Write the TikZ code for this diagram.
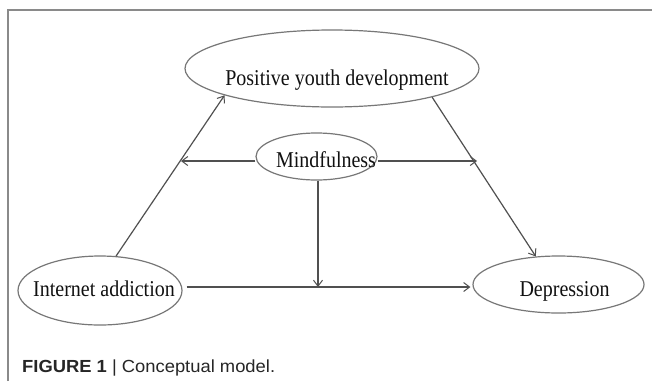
\documentclass[tikz,border=0pt]{standalone}
\usepackage{fontspec}
\setmainfont{Liberation Serif}
\newfontfamily\capfont{Liberation Sans}
\usetikzlibrary{shapes.geometric,arrows.meta,calc}
\definecolor{framec}{HTML}{8A8A8A}
\definecolor{ellc}{HTML}{777777}
\definecolor{linec}{HTML}{505050}
\definecolor{txtc}{HTML}{111111}
\newcommand{\tallt}[1]{\scalebox{1}[1.13]{#1}}
\tikzset{
  ell/.style={draw=ellc, line width=1.2pt, ellipse, inner sep=0pt},
  lbl/.style={anchor=base, inner sep=0pt, text=txtc, font=\fontsize{20}{24}\selectfont},
  arr/.style={draw=linec, line width=1.2pt, -{Straight Barb[length=6pt,width=9pt,line width=1pt]}},
  ln/.style={draw=linec, line width=1.2pt}
}
\begin{document}
\begin{tikzpicture}[x=1pt,y=-1pt]
\useasboundingbox (0,0) rectangle (652,381);
\fill[white] (0,0) rectangle (652,381);
% frame
\draw[framec, line width=1.6pt] (8,381) -- (8,10) -- (652,10);
% ellipses
\node[ell, minimum width=294pt, minimum height=77pt] (pyd) at (332,68.5) {};
\node[ell, minimum width=121pt, minimum height=47pt] (mind) at (316.5,156.5) {};
\node[ell, minimum width=164pt, minimum height=69pt] (ia) at (100,290.5) {};
\node[ell, minimum width=171pt, minimum height=57pt] (dep) at (558.5,284.5) {};
% texts
\node[lbl] (pydt) at (337,85) {\tallt{Positive youth development}};
\node[lbl] (mindt) at (326,167) {\tallt{Mindfulness}};
\node[lbl] (iat) at (104,296) {\tallt{Internet addiction}};
\node[lbl] (dept) at (564.5,296) {\tallt{Depression}};
% coordinates for moderation targets
\coordinate (mL) at (181,161);
\coordinate (mR) at (477,161);
\coordinate (mD) at (318,287);
% connectors
\draw[arr] (ia.65) -- (pyd.194);
\draw[arr] (pyd.344.5) -- (dep.129.5);
\draw[arr] (mind.west |- mL) -- (mL);
\draw[arr] (mind.east |- mR) -- (mR);
\draw[arr] (mind.south -| mD) -- (mD);
\draw[arr, shorten <=4pt, shorten >=2pt] (ia.east |- mD) -- (dep.west |- mD);
% caption
\node[anchor=base west, inner sep=0pt, text=black!85, font=\capfont\fontsize{17.5}{20}\selectfont] (cap) at (22,372) {\scalebox{1.05}[1]{\textbf{FIGURE 1} | Conceptual model.}};
\end{tikzpicture}
\end{document}
